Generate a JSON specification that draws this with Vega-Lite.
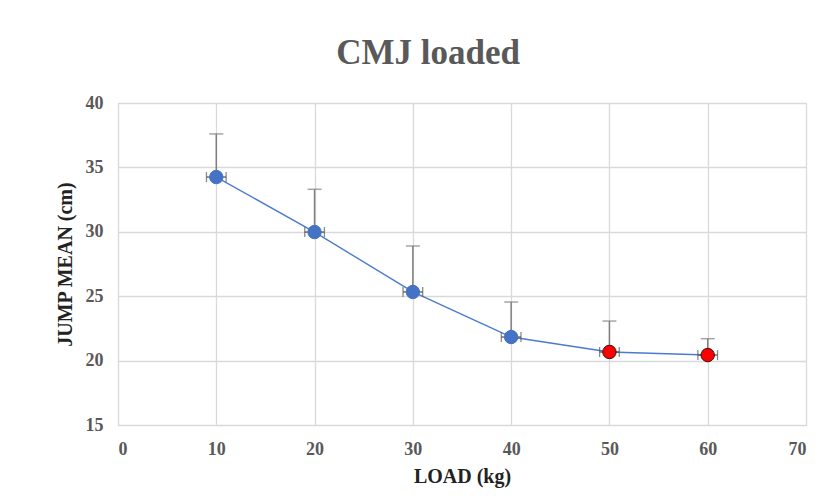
{
  "$schema": "https://vega.github.io/schema/vega-lite/v6.json",
  "autosize": {"type": "none"},
  "padding": {"left": 118, "top": 103, "right": 29, "bottom": 79},
  "width": 688,
  "height": 322,
  "background": "white",
  "title": {
    "text": "CMJ loaded",
    "font": "Liberation Serif",
    "fontSize": 35,
    "fontWeight": "bold",
    "color": "#595959",
    "anchor": "middle",
    "dx": -34,
    "offset": 23
  },
  "data": {
    "values": [
      {"load": 10, "mean": 34.25, "upper": 37.6, "xlo": 9, "xhi": 11, "group": "blue"},
      {"load": 20, "mean": 29.98, "upper": 33.3, "xlo": 19, "xhi": 21, "group": "blue"},
      {"load": 30, "mean": 25.33, "upper": 28.9, "xlo": 29, "xhi": 31, "group": "blue"},
      {"load": 40, "mean": 21.83, "upper": 24.55, "xlo": 39, "xhi": 41, "group": "blue"},
      {"load": 50, "mean": 20.67, "upper": 23.07, "xlo": 49, "xhi": 51, "group": "red"},
      {"load": 60, "mean": 20.43, "upper": 21.7, "xlo": 59, "xhi": 61, "group": "red"}
    ]
  },
  "encoding": {
    "x": {
      "field": "load", "type": "quantitative",
      "scale": {"domain": [0, 70], "nice": false, "zero": false},
      "axis": {
        "values": [0, 10, 20, 30, 40, 50, 60, 70],
        "title": "LOAD (kg)",
        "titleFont": "Liberation Serif", "titleFontSize": 20, "titleFontWeight": "bold", "titleColor": "#222222",
        "titlePadding": 8,
        "labelFont": "Liberation Serif", "labelFontSize": 18, "labelFontWeight": "bold", "labelColor": "#595959",
        "labelPadding": 15,
        "ticks": false, "domainColor": "#d9d9d9", "gridColor": "#d9d9d9", "gridWidth": 1.3
      }
    }
  },
  "layer": [
    {
      "mark": {"type": "line", "color": "#4a7bd0", "strokeWidth": 1.4},
      "encoding": {
        "y": {
          "field": "mean", "type": "quantitative",
          "scale": {"domain": [15, 40], "nice": false, "zero": false},
          "axis": {
            "values": [15, 20, 25, 30, 35, 40],
            "title": "JUMP MEAN (cm)",
            "titleFont": "Liberation Serif", "titleFontSize": 20, "titleFontWeight": "bold", "titleColor": "#222222",
            "titlePadding": 10,
            "labelFont": "Liberation Serif", "labelFontSize": 18, "labelFontWeight": "bold", "labelColor": "#595959",
            "labelPadding": 15,
            "ticks": false, "domainColor": "#d9d9d9", "gridColor": "#d9d9d9", "gridWidth": 1.3
          }
        }
      }
    },
    {
      "mark": {"type": "rule", "color": "#7f7f7f", "strokeWidth": 1.5},
      "encoding": {
        "y": {"field": "mean", "type": "quantitative"},
        "y2": {"field": "upper"}
      }
    },
    {
      "mark": {"type": "tick", "orient": "horizontal", "color": "#7f7f7f", "size": 14, "thickness": 1.5},
      "encoding": {
        "y": {"field": "upper", "type": "quantitative"}
      }
    },
    {
      "mark": {"type": "rule", "color": "#595959", "strokeWidth": 1.3},
      "encoding": {
        "x": {"field": "xlo", "type": "quantitative"},
        "x2": {"field": "xhi"},
        "y": {"field": "mean", "type": "quantitative"}
      }
    },
    {
      "mark": {"type": "tick", "orient": "vertical", "color": "#595959", "size": 10, "thickness": 1.3},
      "encoding": {
        "x": {"field": "xlo", "type": "quantitative"},
        "y": {"field": "mean", "type": "quantitative"}
      }
    },
    {
      "mark": {"type": "tick", "orient": "vertical", "color": "#595959", "size": 10, "thickness": 1.3},
      "encoding": {
        "x": {"field": "xhi", "type": "quantitative"},
        "y": {"field": "mean", "type": "quantitative"}
      }
    },
    {
      "mark": {"type": "point", "shape": "circle", "filled": true, "size": 180, "opacity": 1, "strokeWidth": 1},
      "encoding": {
        "y": {"field": "mean", "type": "quantitative"},
        "color": {
          "field": "group", "type": "nominal",
          "scale": {"domain": ["blue", "red"], "range": ["#4472C4", "#FF0000"]},
          "legend": null
        },
        "stroke": {
          "field": "group", "type": "nominal",
          "scale": {"domain": ["blue", "red"], "range": ["#4472C4", "#3a1010"]},
          "legend": null
        }
      }
    }
  ]
}
